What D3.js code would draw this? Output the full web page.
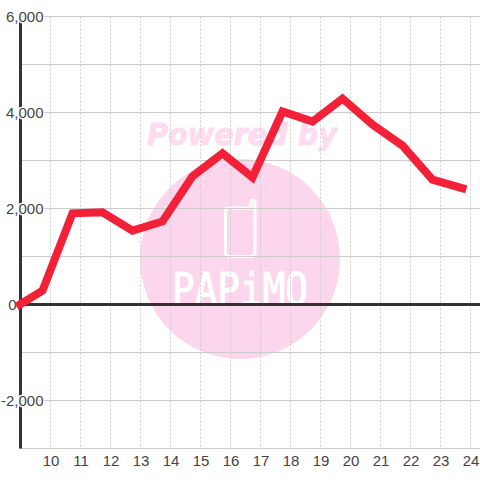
<!DOCTYPE html>
<html>
<head>
<meta charset="utf-8">
<script src="https://d3js.org/d3.v7.min.js"></script>
<style>
html, body { margin: 0; padding: 0; background: #fff; }
svg { display: block; }
text { font-family: "Liberation Sans", Arial, sans-serif; }
</style>
</head>
<body>
<script>
const hourTicks = [10, 11, 12, 13, 14, 15, 16, 17, 18, 19, 20, 21, 22, 23, 24];
const valueTicks = [-3000, -2000, -1000, 0, 1000, 2000, 3000, 4000, 5000, 6000];
const labelTicks = [-2000, 0, 2000, 4000, 6000];
const hours = [9, 9.75, 10.75, 11.75, 12.75, 13.75, 14.75, 15.75, 16.75, 17.75, 18.75, 19.75, 20.75, 21.75, 22.75, 23.75];
const values = [0, 290, 1900, 1920, 1540, 1730, 2670, 3150, 2650, 4020, 3810, 4290, 3750, 3310, 2600, 2420];

const width = 480;
const height = 480;

const svg = d3.select('body').append('svg')
    .attr('width', width)
    .attr('height', height);

const xScale = d3.scaleLinear().domain([9, 24.3333]).range([20, 480]);
const yScale = d3.scaleLinear().domain([-3000, 6000]).range([448.5, 16.5]);

// watermark goes under the grid
const mark = svg.append('g');
const pink = '#fcd6ec';
mark.append('circle')
    .attr('cx', 240)
    .attr('cy', 259)
    .attr('r', 100)
    .attr('fill', pink);
mark.append('text')
    .text('Powered by')
    .attr('x', 147)
    .attr('y', 145)
    .attr('font-size', 30)
    .attr('font-weight', 'bold')
    .attr('font-style', 'italic')
    .attr('textLength', 190)
    .attr('lengthAdjust', 'spacingAndGlyphs')
    .style('font-family', '"DejaVu Sans"')
    .attr('fill', '#fddcf0')
    .attr('stroke', '#fddcf0')
    .attr('stroke-width', 1);
mark.append('path')
    .attr('d', 'M228 208 H251 V202 Q251 200.5 253 200.5 Q255 200.5 255 202 V252 Q255 256.5 251 256.5 H230 Q225.5 256.5 225.5 252 V210 Q225.5 208 228 208')
    .attr('fill', 'none')
    .attr('stroke', '#fff')
    .attr('stroke-width', 3);
mark.append('text')
    .text('PAPiMO')
    .attr('x', 172)
    .attr('y', 305)
    .attr('font-size', 44)
    .attr('textLength', 136)
    .attr('lengthAdjust', 'spacingAndGlyphs')
    .style('font-family', '"DejaVu Sans Mono"')
    .attr('fill', '#fff')
    .attr('stroke', '#fff')
    .attr('stroke-width', 1);

// grid
svg.append('g')
    .selectAll('line')
    .data(hourTicks)
    .join('line')
    .attr('x1', d => Math.round(xScale(d)) + 0.5)
    .attr('x2', d => Math.round(xScale(d)) + 0.5)
    .attr('y1', yScale(6000))
    .attr('y2', yScale(-3000))
    .attr('stroke', '#ccc')
    .attr('stroke-dasharray', '2,2');

svg.append('g')
    .selectAll('line')
    .data(valueTicks)
    .join('line')
    .attr('x1', 20)
    .attr('x2', width)
    .attr('y1', d => yScale(d))
    .attr('y2', d => yScale(d))
    .attr('stroke', '#ccc');

// axes
svg.append('line')
    .attr('x1', 20.5)
    .attr('x2', 20.5)
    .attr('y1', yScale(6000))
    .attr('y2', yScale(-3000))
    .attr('stroke', '#333')
    .attr('stroke-width', 3);

svg.append('line')
    .attr('x1', 20)
    .attr('x2', width)
    .attr('y1', yScale(0))
    .attr('y2', yScale(0))
    .attr('stroke', '#333')
    .attr('stroke-width', 3);

// tick labels, the zero one sits left of the axis
svg.append('g')
    .selectAll('text')
    .data(labelTicks)
    .join('text')
    .text(d => d3.format(',')(d).replace('\u2212', '-'))
    .attr('x', d => d === 0 ? 16.5 : 43.5)
    .attr('y', d => yScale(d) + 5)
    .attr('text-anchor', 'end')
    .attr('font-size', 15)
    .attr('fill', '#444')
    .attr('stroke', '#fff')
    .attr('stroke-width', 3)
    .attr('paint-order', 'stroke');

svg.append('g')
    .selectAll('text')
    .data(hourTicks)
    .join('text')
    .text(d => d)
    .attr('x', d => xScale(d) + 1)
    .attr('y', 466)
    .attr('text-anchor', 'middle')
    .attr('font-size', 15)
    .attr('fill', '#444');

// series
const line = d3.line()
    .x((d, i) => xScale(hours[i]))
    .y(d => yScale(d));

svg.append('path')
    .datum(values)
    .attr('d', line)
    .attr('fill', 'none')
    .attr('stroke', '#f22138')
    .attr('stroke-width', 8)
    .attr('stroke-linecap', 'square')
    .attr('stroke-linejoin', 'miter');
</script>
</body>
</html>
